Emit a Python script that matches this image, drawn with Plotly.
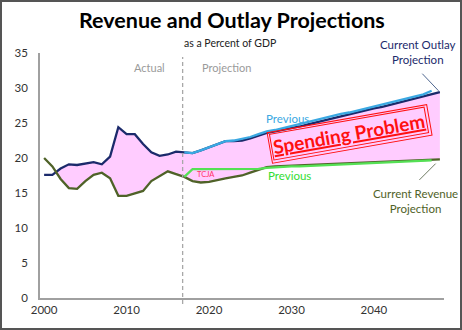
import plotly.graph_objects as go

# Federal revenue and outlays, percent of GDP
years = list(range(2000, 2049))

outlays = [17.6, 17.6, 18.5, 19.1, 19.0, 19.2, 19.4, 19.1, 20.2, 24.4,
           23.4, 23.4, 22.0, 20.8, 20.3, 20.5, 20.9, 20.8, 20.7, 21.1,
           21.5, 21.9, 22.4, 22.4, 22.5, 22.8, 23.2, 23.6, 23.8, 24.0,
           24.3, 24.5, 24.8, 25.1, 25.4, 25.7, 26.0, 26.2, 26.5, 26.8,
           27.1, 27.3, 27.6, 27.9, 28.1, 28.4, 28.7, 29.0, 29.4]

revenues = [20.0, 18.8, 17.0, 15.7, 15.6, 16.7, 17.6, 17.9, 17.1, 14.6,
            14.6, 15.0, 15.3, 16.7, 17.4, 18.1, 17.7, 17.3, 16.7, 16.5,
            16.6, 16.9, 17.1, 17.3, 17.5, 17.9, 18.3, 18.7, 18.8, 18.85,
            18.9, 18.9, 18.95, 19.0, 19.05, 19.1, 19.15, 19.2, 19.25, 19.3,
            19.35, 19.4, 19.45, 19.5, 19.55, 19.6, 19.7, 19.75, 19.8]

prev_years = list(range(2017, 2048))
prev_outlays = [20.8, 20.7, 21.1, 21.5, 21.9, 22.4, 22.5, 22.7, 23.0, 23.4,
                23.8, 24.0, 24.3, 24.6, 24.8, 25.1, 25.4, 25.7, 26.0, 26.3,
                26.5, 26.8, 27.1, 27.4, 27.6, 27.9, 28.2, 28.5, 28.8, 29.1,
                29.6]
prev_revenues = [17.3, 18.4, 18.4, 18.4, 18.4, 18.4, 18.4, 18.4, 18.4, 18.45,
                 18.6, 18.7, 18.75, 18.8, 18.8, 18.85, 18.9, 18.95, 19.0, 19.05,
                 19.1, 19.15, 19.2, 19.25, 19.3, 19.35, 19.4, 19.45, 19.5, 19.55,
                 19.65]

split_year = 2016.8
x_ticks = [2000, 2010, 2020, 2030, 2040]
y_ticks = [0, 5, 10, 15, 20, 25, 30, 35]

NAVY = "#1B2A6B"
SKY = "#3AA8E2"
OLIVE = "#4F6228"
LIME = "#55E055"
PINK = "#FFCCFF"
RED = "#FF1010"
FONT = "Lato"

# deficit band: only where outlays exceed revenue (cross-over points added)
band_x, band_lo, band_hi = [], [], []
for i, yr in enumerate(years):
    if i > 0:
        d0 = outlays[i - 1] - revenues[i - 1]
        d1 = outlays[i] - revenues[i]
        if d0 * d1 < 0:
            t = d0 / (d0 - d1)
            yc = revenues[i - 1] + t * (revenues[i] - revenues[i - 1])
            band_x.append(years[i - 1] + t)
            band_lo.append(yc)
            band_hi.append(yc)
    band_x.append(yr)
    band_lo.append(revenues[i])
    band_hi.append(max(outlays[i], revenues[i]))

fig = go.Figure()
fig.add_trace(go.Scatter(x=band_x, y=band_lo, mode="lines",
                         line=dict(width=0), hoverinfo="skip", showlegend=False))
fig.add_trace(go.Scatter(x=band_x, y=band_hi, mode="lines", fill="tonexty",
                         fillcolor=PINK, line=dict(width=0),
                         hoverinfo="skip", showlegend=False))
fig.add_trace(go.Scatter(x=years, y=outlays, mode="lines", name="Outlays",
                         line=dict(color=NAVY, width=2.3), showlegend=False))
fig.add_trace(go.Scatter(x=years, y=revenues, mode="lines", name="Revenue",
                         line=dict(color=OLIVE, width=2.3), showlegend=False))
fig.add_trace(go.Scatter(x=prev_years, y=prev_outlays, mode="lines",
                         name="Previous outlays",
                         line=dict(color=SKY, width=2.3), showlegend=False))
fig.add_trace(go.Scatter(x=prev_years, y=prev_revenues, mode="lines",
                         name="Previous revenue",
                         line=dict(color=LIME, width=2.3), showlegend=False))

L, R, T, B = 40, 18, 53, 32
W, H = 462, 330
PW, PH = W - L - R, H - T - B


def px(x):
    return (x - L) / PW


def py(y):
    return (H - B - y) / PH


def label(text, x, y, size, color, **kw):
    return dict(text=text, xref="paper", yref="paper", x=px(x), y=py(y),
                xanchor="center", yanchor="middle", showarrow=False,
                font=dict(family=FONT, size=size, color=color), **kw)


annotations = [
    label("<b>Revenue and Outlay Projections</b>", 232, 20, 21.5, "#000000"),
    label("as a Percent of GDP", 230, 43, 10.5, "#222222"),
    label("Actual", 149, 68, 11, "#9A9A9A"),
    label("Projection", 226, 68, 11, "#9A9A9A"),
    label("Current Outlay<br>Projection", 418, 52, 11.5, NAVY),
    label("Current Revenue<br>Projection", 415, 201, 11.5, OLIVE),
    dict(text="Previous", x=2029.5, y=25.7, showarrow=False,
         xanchor="center", yanchor="middle",
         font=dict(family=FONT, size=11.5, color=SKY)),
    dict(text="Previous", x=2029.8, y=17.5, showarrow=False,
         xanchor="center", yanchor="middle",
         font=dict(family=FONT, size=11.5, color="#33DD33")),
    dict(text="TCJA", x=2019.6, y=17.6, showarrow=False,
         xanchor="center", yanchor="middle",
         font=dict(family=FONT, size=7.5, color="#FF3366")),
    # leader lines from the labels to the series ends
    dict(text="", x=years[-1], y=outlays[-1], showarrow=True, arrowhead=0,
         arrowwidth=1, arrowcolor="#4F6790", ax=-19, ay=-20, standoff=2),
    dict(text="", x=years[-1], y=revenues[-1], showarrow=True, arrowhead=0,
         arrowwidth=1, arrowcolor="#6E7A62", ax=-22, ay=22, standoff=6),
    # double-framed callout
    dict(text="<b><u>Spending Problem</u></b>", x=2037.0, y=23.5,
         showarrow=False, textangle=-10, xanchor="center", yanchor="middle",
         font=dict(family=FONT, size=19, color="rgba(0,0,0,0)"),
         bordercolor=RED, borderwidth=1, borderpad=3.5),
    dict(text="<b><u>Spending Problem</u></b>", x=2037.0, y=23.5,
         showarrow=False, textangle=-10, xanchor="center", yanchor="middle",
         font=dict(family=FONT, size=19, color=RED),
         bordercolor=RED, borderwidth=1, borderpad=1),
]

shapes = [
    dict(type="line", xref="x", yref="paper", x0=split_year, x1=split_year,
         y0=py(304), y1=py(57), line=dict(color="#A8A8A8", width=1.3,
                                          dash="4px,3px")),
    dict(type="rect", xref="paper", yref="paper", x0=px(1), x1=px(W - 1),
         y0=py(H - 1), y1=py(1), line=dict(color="#555555", width=2)),
]

fig.update_layout(
    width=W, height=H,
    margin=dict(l=L, r=R, t=T, b=B),
    paper_bgcolor="white", plot_bgcolor="white",
    annotations=annotations, shapes=shapes,
    font=dict(family=FONT, size=11, color="#404040"),
    xaxis=dict(range=[1999.5, 2048.5], tickvals=x_ticks, showgrid=False,
               zeroline=False, showline=True, linecolor="#A0A0A0",
               linewidth=1.5, ticks="", tickfont=dict(size=11.5, color="#333333")),
    yaxis=dict(range=[0, 35], tickvals=y_ticks, showgrid=False, zeroline=False,
               showline=True, linecolor="#A0A0A0", linewidth=1.5, ticks="",
               ticklabelstandoff=8, tickfont=dict(size=11.5, color="#333333")),
)

fig.write_html("out.html")
